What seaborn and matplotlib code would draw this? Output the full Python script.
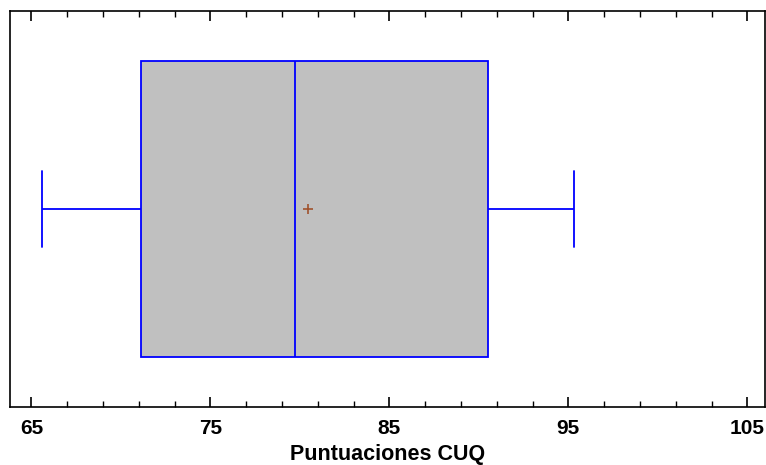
import matplotlib
matplotlib.use("Agg")
import matplotlib.pyplot as plt
import seaborn as sns
import numpy as np
from matplotlib.ticker import MultipleLocator

# Data (summary points of the CUQ scores)
scores = [65.6, 71.1, 79.7, 90.5, 95.3]
x_ticks = [65, 75, 85, 95, 105]
x_label = "Puntuaciones CUQ"

sns.set_theme(style="white")
plt.rcParams['font.family'] = ['Liberation Sans', 'DejaVu Sans']

fig = plt.figure(figsize=(7.66, 4.65), dpi=100)
ax = fig.add_axes([0.013, 0.125, 0.986, 0.851])

sns.boxplot(x=scores, orient="h", ax=ax, width=0.75, whis=1.5,
            color="#C0C0C0", saturation=1, linecolor="#0000FF", linewidth=1.3,
            showcaps=True, showfliers=False, showmeans=True,
            meanprops=dict(marker="+", markeredgecolor="#A0522D", markersize=7,
                           markeredgewidth=1.2),
            boxprops=dict(facecolor="#C0C0C0", edgecolor="#0000FF"),
            whiskerprops=dict(color="#0000FF"),
            capprops=dict(color="#0000FF"),
            medianprops=dict(color="#0000FF"))

# cap height like reference
for line in ax.lines:
    yd = line.get_ydata()
    xd = line.get_xdata()
    if len(xd) == 2 and xd[0] == xd[1] and 0 < abs(yd[1] - yd[0]) < 0.5:
        c = (yd[0] + yd[1]) / 2
        line.set_ydata([c - 0.095, c + 0.095])

ax.set_xlim(63.8, 106.0)
ax.set_ylim(0.5, -0.5)
ax.set_xticks(x_ticks)
ax.xaxis.set_minor_locator(MultipleLocator(2, offset=1))
ax.set_yticks([])
ax.tick_params(axis="x", which="major", direction="in", length=7, width=1.2,
               top=True, bottom=True, labelsize=15, pad=9, color="black",
               labelcolor="black")
ax.tick_params(axis="x", which="minor", direction="in", length=4, width=1.0,
               top=True, bottom=True, color="black")
for lab in ax.get_xticklabels():
    lab.set_fontweight("bold")
ax.set_xlabel(x_label, fontsize=15.5, fontweight="bold", labelpad=4, color="black")
for s in ax.spines.values():
    s.set_color("black")
    s.set_linewidth(1.2)
    s.set_visible(True)

fig.savefig("out.png", dpi=100)
